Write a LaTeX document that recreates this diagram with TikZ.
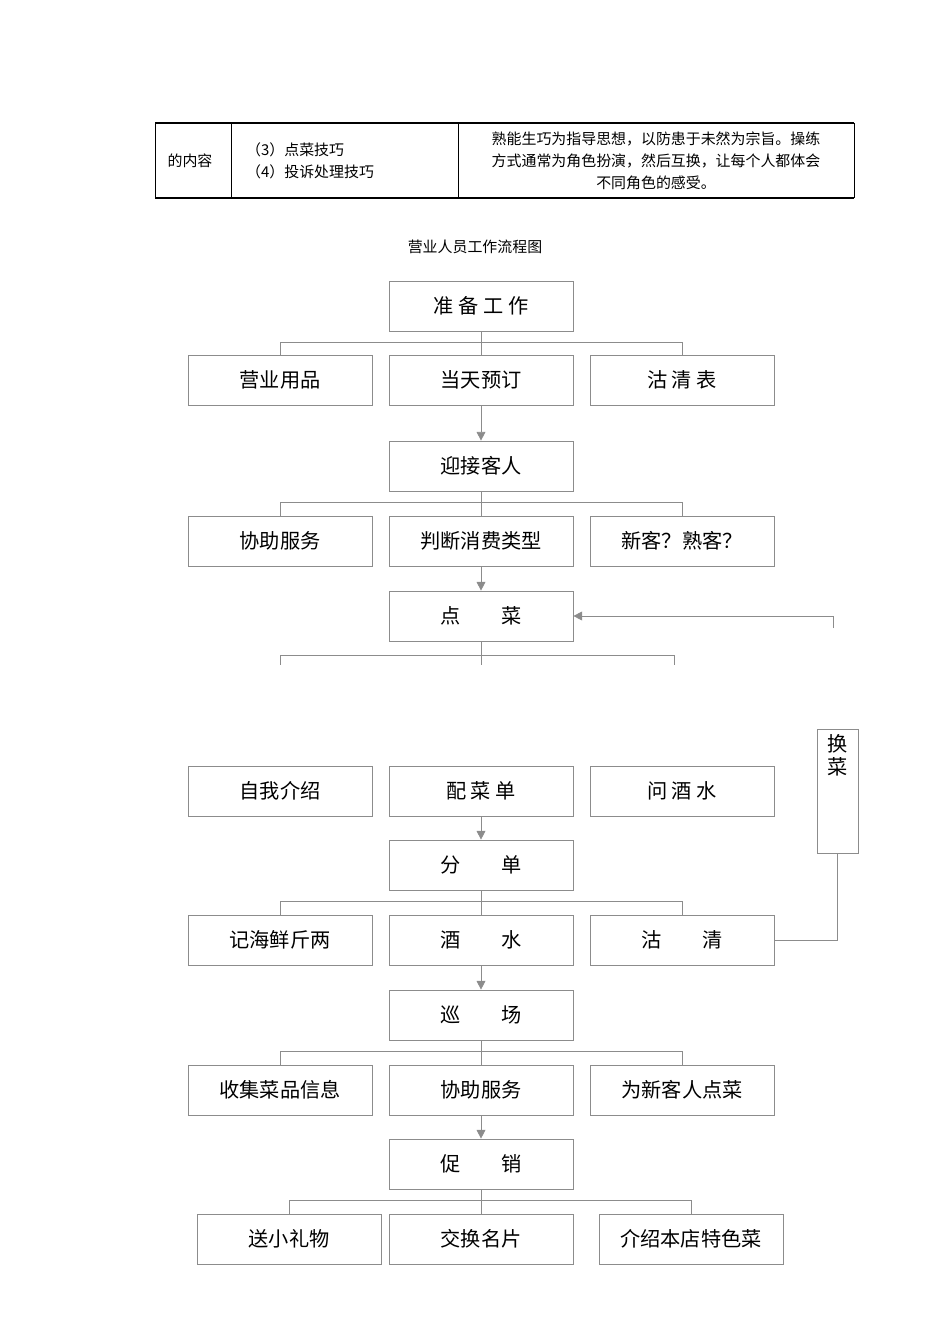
\documentclass[tikz,border=0pt]{standalone}
\usepackage{fontspec}
\newfontfamily\cjk{Noto Sans CJK SC}
\usetikzlibrary{positioning, arrows.meta}
\begin{document}
\begin{tikzpicture}[x=0.02cm, y=-0.02cm,
    box/.style={draw=black!45, minimum width=3.68cm, minimum height=1cm, inner sep=0pt, font=\cjk\fontsize{11.5}{13}\selectfont},
    link/.style={draw=black!45, line width=0.5pt},
    arr/.style={link, -{Triangle[length=5pt, width=5pt]}}]
    \useasboundingbox (0,0) rectangle (950,1344);
    % table fragment
    \draw[line width=0.7pt] (155,123) -- (854,123) (155,198) -- (854,198);
    \draw[line width=0.5pt] (155,123) -- (155,198) (231,123) -- (231,198) (458,123) -- (458,198) (854,123) -- (854,198);
    \node[font=\cjk\fontsize{8.5}{10}\selectfont] (tc1) at (190,161) {的内容};
    \node[font=\cjk\fontsize{8.5}{12.5}\selectfont, align=left, anchor=west] (tc2) at (240,161) {（3）点菜技巧\\（4）投诉处理技巧};
    \node[font=\cjk\fontsize{8.5}{12.5}\selectfont, align=center] (tc3) at (656,161) {熟能生巧为指导思想，以防患于未然为宗旨。操练\\方式通常为角色扮演，然后互换，让每个人都体会\\不同角色的感受。};
    \node[font=\cjk\fontsize{8.5}{10}\selectfont] (title) at (475,247) {营业人员工作流程图};

    % main column
    \node[box] (zb) at (481,306) {准\ 备\ 工\ 作};
    \node[box] (a1) at (280,380) {营业用品};
    \node[box] (a2) at (481,380) {当天预订};
    \node[box] (a3) at (682,380) {沽\ 清\ 表};
    \node[box] (yj) at (481,466) {迎接客人};
    \node[box] (b1) at (280,541) {协助服务};
    \node[box] (b2) at (481,541) {判断消费类型};
    \node[box] (b3) at (682,541) {新客？熟客？};
    \node[box] (dc) at (481,616) {点\qquad 菜};
    \node[box] (c1) at (280,791) {自我介绍};
    \node[box] (c2) at (481,791) {配\ 菜\ 单};
    \node[box] (c3) at (682,791) {问\ 酒\ 水};
    \node[box] (fd) at (481,865) {分\qquad 单};
    \node[box] (d1) at (280,940) {记海鲜斤两};
    \node[box] (d2) at (481,940) {酒\qquad 水};
    \node[box] (d3) at (682,940) {沽\qquad 清};
    \node[box] (xc) at (481,1015) {巡\qquad 场};
    \node[box] (e1) at (280,1090) {收集菜品信息};
    \node[box] (e2) at (481,1090) {协助服务};
    \node[box] (e3) at (682,1090) {为新客人点菜};
    \node[box] (cx) at (481,1164) {促\qquad 销};
    \node[box] (f1) at (289,1239) {送小礼物};
    \node[box] (f2) at (481,1239) {交换名片};
    \node[box] (f3) at (691,1239) {介绍本店特色菜};
    \node[draw=black!45, minimum width=0.82cm, minimum height=2.48cm, inner sep=0pt] (hc) at (837.5,791) {};
    \node[font=\cjk\fontsize{11.5}{13}\selectfont, align=center, anchor=north] (hct) at (hc.north) {换\\菜};

    % brackets
    \foreach \p/\l/\m/\r in {zb/a1/a2/a3, yj/b1/b2/b3, fd/d1/d2/d3, xc/e1/e2/e3, cx/f1/f2/f3} {
        \draw[link] (\p.south) -- ++(0,11) -| (\l.north);
        \draw[link] (\p.south) ++(0,11) -| (\r.north);
        \draw[link] (\p.south) -- (\m.north);
    }
    \draw[link] (dc.south) -- ++(0,14) -| (280,665);
    \draw[link] (dc.south) ++(0,14) -| (674,665);
    \draw[link] (dc.south) -- ++(0,24);

    % arrows
    \foreach \a/\b in {a2/yj, b2/dc, c2/fd, d2/xc, e2/cx} {
        \draw[arr] (\a.south) -- (\b.north);
    }
    \coordinate (back) at (833,628);
    \draw[arr] (back) |- (dc.east);
    \draw[link] (d3.east) -| (hc.south);
\end{tikzpicture}
\end{document}
